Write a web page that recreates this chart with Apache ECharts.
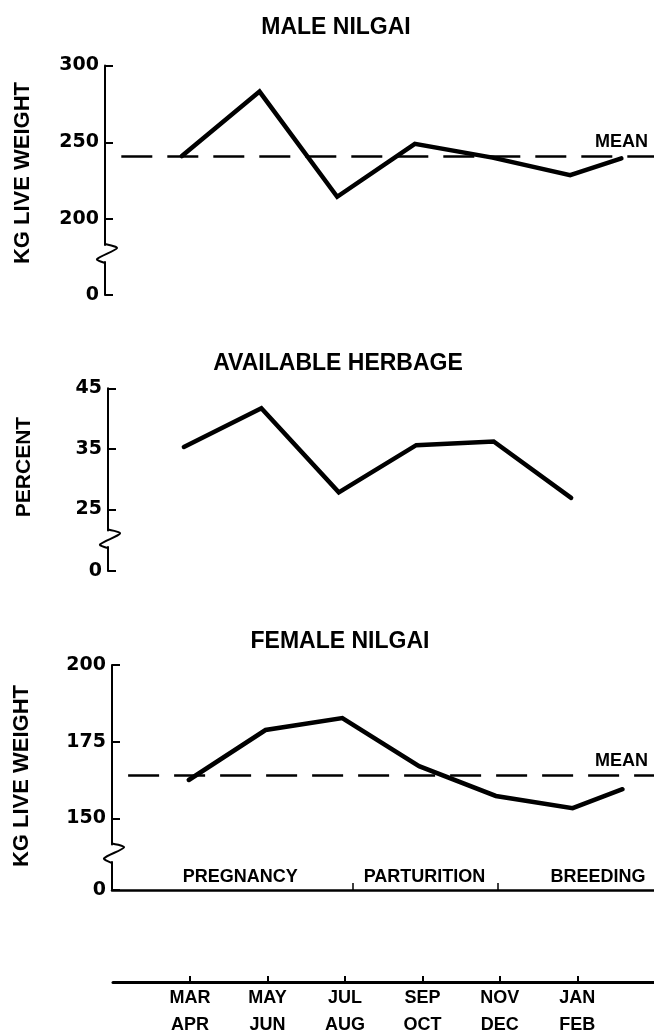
<!DOCTYPE html>
<html>
<head>
<meta charset="utf-8">
<script src="https://cdn.jsdelivr.net/npm/echarts@6.0.0/dist/echarts.min.js"></script>
<style>
  html, body { margin: 0; padding: 0; background: #fff; }
  #chart { width: 654px; height: 1031px; }
</style>
</head>
<body>
<div id="chart"></div>
<script>
// ---- data ----
const categories = ['MAR\nAPR', 'MAY\nJUN', 'JUL\nAUG', 'SEP\nOCT', 'NOV\nDEC', 'JAN\nFEB'];
const categoryIndex = [0, 1, 2, 3, 4, 5];

const maleX = [0, 1, 2, 3, 4, 5, 5.66];
const maleWeight = [241, 283, 214.5, 249, 240, 228.5, 239.5];
const maleMean = 241;
const maleTicks = [200, 250, 300];

const herbageX = [0, 1, 2, 3, 4, 5];
const herbagePercent = [35.3, 41.7, 27.8, 35.6, 36.2, 26.9];
const herbageTicks = [25, 35, 45];

const femaleX = [0, 1, 2, 3, 4, 5, 5.65];
const femaleWeight = [162.5, 178.8, 182.7, 167, 157.3, 153.3, 159.5];
const femaleMean = 164.2;
const femaleTicks = [150, 175, 200];

const phases = ['PREGNANCY', 'PARTURITION', 'BREEDING'];
const phaseCenters = [0.67, 3.07, 5.33];
const phaseBounds = [2.14, 4.03];

const zeroTick = [0];

// ---- layout ----
const INK = '#000';
const NUM_FONT = 'DejaVu Sans';
const TXT_FONT = 'Liberation Sans';

const panels = [
  { axisX: 105, width: 549, top: 65.5, height: 179.6, yMin: 183, yMax: 300, zeroTop: 262, zeroH: 33, xMin: -0.99, xMax: 6.08 },
  { axisX: 108, width: 546, top: 388.3, height: 142.2, yMin: 21.5, yMax: 45, zeroTop: 547, zeroH: 24, xMin: -0.98, xMax: 6.07 },
  { axisX: 112, width: 542, top: 665, height: 179.4, yMin: 141.5, yMax: 200, zeroTop: 862, zeroH: 28, xMin: -1.0, xMax: 6.06 }
];
const tickSets = [maleTicks, herbageTicks, femaleTicks];

const grids = [], xAxes = [], yAxes = [];
panels.forEach((p, i) => {
  grids.push({ left: p.axisX, width: p.width, top: p.top, height: p.height, outerBoundsMode: 'none' });
  grids.push({ left: p.axisX, width: p.width, top: p.zeroTop, height: p.zeroH, outerBoundsMode: 'none' });
  const yAxisBase = {
    type: 'value',
    axisLine: { show: true, onZero: false, lineStyle: { color: INK, width: 2 } },
    axisTick: { show: true, inside: true, length: 8, lineStyle: { color: INK, width: 2 } },
    axisLabel: { color: INK, fontFamily: NUM_FONT, fontWeight: 'bold', fontSize: 19, margin: 6 },
    splitLine: { show: false }
  };
  xAxes.push({ gridIndex: 2 * i, type: 'value', min: p.xMin, max: p.xMax, show: false });
  yAxes.push(Object.assign({}, yAxisBase, {
    gridIndex: 2 * i, min: p.yMin, max: p.yMax,
    axisTick: Object.assign({}, yAxisBase.axisTick, { customValues: tickSets[i] }),
    axisLabel: Object.assign({}, yAxisBase.axisLabel, { customValues: tickSets[i] })
  }));
  if (i < 2) {
    xAxes.push({ gridIndex: 2 * i + 1, type: 'value', min: p.xMin, max: p.xMax, show: false });
  } else {
    xAxes.push({
      gridIndex: 2 * i + 1, type: 'value', min: p.xMin, max: p.xMax,
      axisLine: { show: true, onZero: false, lineStyle: { color: INK, width: 2.5 } },
      axisTick: { show: true, inside: true, length: 7, customValues: phaseBounds, lineStyle: { color: INK, width: 1.5 } },
      axisLabel: {
        show: true, inside: true, margin: 4, customValues: phaseCenters,
        color: INK, fontFamily: TXT_FONT, fontWeight: 'bold', fontSize: 18,
        formatter: v => {
          let best = 0;
          phaseCenters.forEach((c, k) => { if (Math.abs(c - v) < Math.abs(phaseCenters[best] - v)) best = k; });
          return phases[best];
        }
      },
      splitLine: { show: false }
    });
  }
  yAxes.push(Object.assign({}, yAxisBase, {
    gridIndex: 2 * i + 1, min: 0, max: 1,
    axisTick: Object.assign({}, yAxisBase.axisTick, { customValues: zeroTick }),
    axisLabel: Object.assign({}, yAxisBase.axisLabel, { customValues: zeroTick })
  }));
});

// bottom month axis
grids.push({ left: 113, width: 541, top: 950, height: 32, outerBoundsMode: 'none' });
xAxes.push({
  gridIndex: 6, type: 'value', min: -0.995, max: 5.99,
  axisLine: { show: true, onZero: false, lineStyle: { color: INK, width: 3 } },
  axisTick: { show: true, inside: true, length: 6, customValues: categoryIndex, lineStyle: { color: INK, width: 2 } },
  axisLabel: {
    customValues: categoryIndex, margin: 3,
    color: INK, fontFamily: TXT_FONT, fontWeight: 'bold', fontSize: 18, lineHeight: 27,
    formatter: v => categories[Math.round(v)]
  },
  splitLine: { show: false }
});
yAxes.push({ gridIndex: 6, type: 'value', min: 0, max: 1, show: false });

const lineStyle = { color: INK, width: 4.5, join: 'miter', cap: 'round' };
function meanLine(start, end, value) {
  return {
    silent: true, symbol: ['none', 'none'], animation: false,
    lineStyle: { color: INK, width: 2.5, type: [31, 15] },
    label: {
      show: true, formatter: 'MEAN', position: 'insideEndTop', distance: [6, 5],
      color: INK, fontFamily: TXT_FONT, fontWeight: 'bold', fontSize: 18
    },
    data: [[{ coord: [start, value] }, { coord: [end, value] }]]
  };
}

const series = [
  {
    type: 'line', xAxisIndex: 0, yAxisIndex: 0, symbol: 'none', lineStyle,
    data: maleX.map((x, k) => [x, maleWeight[k]]),
    markLine: meanLine(-0.78, panels[0].xMax, maleMean)
  },
  {
    type: 'line', xAxisIndex: 2, yAxisIndex: 2, symbol: 'none', lineStyle,
    data: herbageX.map((x, k) => [x, herbagePercent[k]])
  },
  {
    type: 'line', xAxisIndex: 4, yAxisIndex: 4, symbol: 'none', lineStyle,
    data: femaleX.map((x, k) => [x, femaleWeight[k]]),
    markLine: meanLine(-0.79, panels[2].xMax, femaleMean)
  }
];

// axis-break zigzags tied to panel layout
const graphics = [];
panels.forEach(p => {
  const a = p.axisX, t = p.top + p.height;
  graphics.push({
    type: 'polyline', silent: true,
    shape: { points: [[a, t - 1], [a + 12, t + 3], [a - 8, t + 14], [a, p.zeroTop + 1]], smooth: 0.3 },
    style: { stroke: INK, lineWidth: 2, fill: null }
  });
});
const yNames = [
  { text: 'KG LIVE WEIGHT', x: 23, y: 173, size: 22 },
  { text: 'PERCENT', x: 24, y: 467, size: 21 },
  { text: 'KG LIVE WEIGHT', x: 22, y: 776, size: 22 }
];
yNames.forEach(n => {
  graphics.push({
    type: 'text', x: n.x, y: n.y, rotation: Math.PI / 2, silent: true,
    style: { text: n.text, fill: INK, fontFamily: TXT_FONT, fontWeight: 'bold', fontSize: n.size, textAlign: 'center', textVerticalAlign: 'middle' }
  });
});

const titleStyle = { color: INK, fontFamily: TXT_FONT, fontWeight: 'bold', fontSize: 23 };
const option = {
  animation: false,
  backgroundColor: '#fff',
  title: [
    { text: 'MALE NILGAI', left: 336, top: 16, textAlign: 'center', textStyle: titleStyle, padding: 0 },
    { text: 'AVAILABLE HERBAGE', left: 338, top: 352, textAlign: 'center', textStyle: titleStyle, padding: 0 },
    { text: 'FEMALE NILGAI', left: 340, top: 630, textAlign: 'center', textStyle: titleStyle, padding: 0 }
  ],
  grid: grids,
  xAxis: xAxes,
  yAxis: yAxes,
  series,
  graphic: graphics
};

const chart = echarts.init(document.getElementById('chart'), null, { renderer: 'canvas' });
chart.setOption(option);
</script>
</body>
</html>
